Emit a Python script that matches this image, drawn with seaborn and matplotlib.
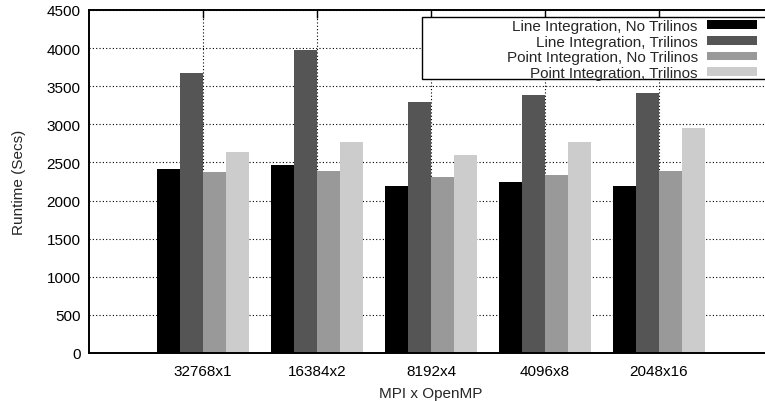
import matplotlib
matplotlib.use("Agg")
import matplotlib.pyplot as plt
from matplotlib.patches import Rectangle
import seaborn as sns
import pandas as pd

# data
configs = ["32768x1", "16384x2", "8192x4", "4096x8", "2048x16"]
series = ["Line Integration, No Trilinos", "Line Integration, Trilinos",
          "Point Integration, No Trilinos", "Point Integration, Trilinos"]
line_no_tri = [2415, 2465, 2190, 2250, 2190]
line_tri = [3675, 3980, 3295, 3385, 3410]
point_no_tri = [2375, 2390, 2310, 2340, 2385]
point_tri = [2640, 2765, 2600, 2770, 2950]
colors = ["#000000", "#555555", "#999999", "#cccccc"]

rows = []
for name, vals in zip(series, [line_no_tri, line_tri, point_no_tri, point_tri]):
    for c, v in zip(configs, vals):
        rows.append({"config": c, "series": name, "runtime": v})
df = pd.DataFrame(rows)

sns.set_style("white")
plt.rcParams["font.family"] = ["Liberation Sans", "DejaVu Sans"]
plt.rcParams["font.size"] = 11

fig = plt.figure(figsize=(7.65, 4.02), dpi=100)
ax = fig.add_axes([89 / 765, 48 / 402, (773 - 89) / 765, (354 - 11) / 402])

sns.barplot(data=df, x="config", y="runtime", hue="series", palette=colors,
            order=configs, hue_order=series, width=0.8, linewidth=0,
            saturation=1, ax=ax)

ax.set_xlim(-1, 5)
ax.set_ylim(0, 4500)
ax.set_yticks(range(0, 4501, 500))
ax.set_axisbelow(True)
ax.grid(True, color="black", linestyle=(0, (1, 2)), linewidth=0.8)

for s in ax.spines.values():
    s.set_linewidth(1.4)
    s.set_color("black")
ax.tick_params(direction="in", length=6, width=1, top=True, right=True,
               labelsize=11, colors="black")
ax.tick_params(axis="x", pad=8)
ax.tick_params(axis="y", pad=6)

ax.set_xlabel("MPI x OpenMP", fontsize=11, labelpad=6)
ax.set_ylabel("Runtime (Secs)", fontsize=11)
ax.yaxis.set_label_coords(-0.092, 0.5)

# gnuplot style key: a wide box with right-aligned labels and swatches
box = Rectangle((422 / 765, 1 - 80 / 402), (768 - 422) / 765, 62 / 402,
                transform=fig.transFigure, facecolor="white",
                edgecolor="black", linewidth=1.0, zorder=4, clip_on=False)
ax.add_artist(box)
handles, labels = ax.get_legend_handles_labels()
leg = ax.legend(handles, labels, loc="upper right",
                bbox_to_anchor=(758 / 765, 1 - 19 / 402),
                bbox_transform=fig.transFigure, markerfirst=False,
                frameon=False, handlelength=3.3, handleheight=0.5,
                handletextpad=0.6, labelspacing=0.12, borderpad=0.05,
                borderaxespad=0, fontsize=11)
leg.set_zorder(6)

fig.savefig("out.png", dpi=100)
